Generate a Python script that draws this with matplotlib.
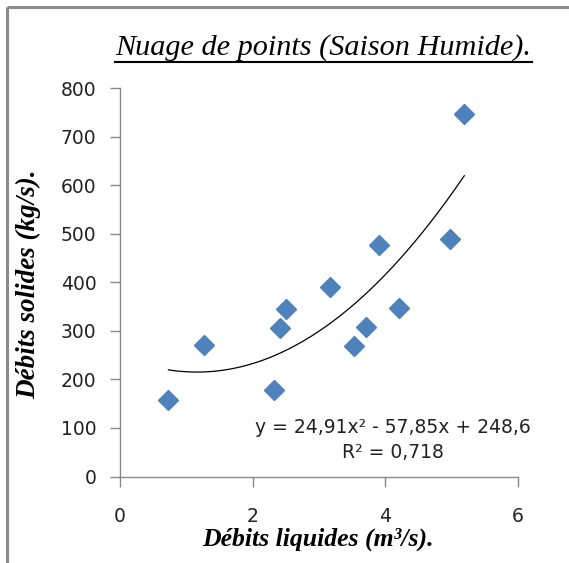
import numpy as np
import matplotlib
matplotlib.use("Agg")
import matplotlib.pyplot as plt
from matplotlib.lines import Line2D

# Wet-season measurements: liquid discharge (m3/s) vs solid discharge (kg/s)
debit_liquide = [0.73, 1.26, 2.32, 2.41, 2.51, 3.17, 3.53, 3.71, 3.90, 4.21, 4.97, 5.19]
debit_solide = [158, 270, 179, 306, 344, 390, 268, 307, 476, 347, 490, 746]

# Second-order polynomial trend line and its fit quality
coef_a, coef_b, coef_c = 24.91, -57.85, 248.6
r2 = 0.718

x_ticks = [0, 2, 4, 6]
y_ticks = [0, 100, 200, 300, 400, 500, 600, 700, 800]

W, H, DPI = 569, 563, 100
fig = plt.figure(figsize=(W / DPI, H / DPI), dpi=DPI)
fig.patch.set_facecolor("white")

# Chart-area frame (left and top edges visible)
frame_col = "#8a8a8a"
fig.add_artist(Line2D([7 / W, 7 / W], [0, 1 - 7 / H], transform=fig.transFigure,
                      color=frame_col, lw=2.2, solid_capstyle="butt"))
fig.add_artist(Line2D([7 / W, 1], [1 - 7 / H, 1 - 7 / H], transform=fig.transFigure,
                      color=frame_col, lw=2.2, solid_capstyle="butt"))

left, right = 120 / W, 518 / W
bottom, top = 1 - 476.5 / H, 1 - 88 / H
ax = fig.add_axes([left, bottom, right - left, top - bottom])
ax.set_xlim(0, 6)
ax.set_ylim(0, 800)

axis_col = "#888888"
for s in ["top", "right"]:
    ax.spines[s].set_visible(False)
for s in ["left", "bottom"]:
    ax.spines[s].set_color(axis_col)
    ax.spines[s].set_linewidth(1.0)

tick_font = "DejaVu Sans"
ax.set_xticks(x_ticks)
ax.set_yticks(y_ticks)
ax.set_xticklabels([str(v) for v in x_ticks], fontfamily=tick_font, fontsize=13.5, color="#222222")
ax.set_yticklabels([str(v) for v in y_ticks], fontfamily=tick_font, fontsize=13.5, color="#222222")
ax.tick_params(axis="both", direction="out", length=7, width=1.0, color=axis_col)
ax.tick_params(axis="x", pad=15)
ax.tick_params(axis="y", pad=10)

# Scatter points
ax.plot(debit_liquide, debit_solide, linestyle="none", marker="D", markersize=10,
        markerfacecolor="#4F81BD", markeredgecolor="#4F81BD", clip_on=False, zorder=3)

# Polynomial trend curve over the data range
xs = np.linspace(min(debit_liquide), max(debit_liquide), 200)
ys = coef_a * xs ** 2 + coef_b * xs + coef_c
ax.plot(xs, ys, color="black", lw=0.9, zorder=2)

eq = (f"y = {coef_a:.2f}x\u00b2 - {abs(coef_b):.2f}x + {coef_c:.1f}".replace(".", ",")
      + "\n" + f"R\u00b2 = {r2:.3f}".replace(".", ","))
ax.text(4.11, 76, eq, ha="center", va="center", multialignment="center",
        fontfamily=tick_font, fontsize=13.5, color="#222222", linespacing=1.4)

serif = "Liberation Serif"
title = fig.text(323.5 / W, 1 - 55 / H, "Nuage de points (Saison Humide).",
                 ha="center", va="baseline", fontfamily=serif, fontstyle="italic",
                 fontsize=21.8, color="black")
fig.text(318 / W, 1 - 539 / H, "Débits liquides (m\u00b3/s).", ha="center", va="center",
         fontfamily=serif, fontstyle="italic", fontweight="bold", fontsize=18.5, color="black")
fig.text(28.5 / W, 1 - 284 / H, "Débits solides (kg/s).", ha="center", va="center",
         rotation=90, fontfamily=serif, fontstyle="italic", fontweight="bold",
         fontsize=19.5, color="black")

# Underline the title
fig.canvas.draw()
bb = title.get_window_extent()
uy = (H - 62) / H
fig.add_artist(Line2D([bb.x0 / W, bb.x1 / W], [uy, uy], transform=fig.transFigure,
                      color="black", lw=1.5))

fig.savefig("out.png", dpi=DPI, facecolor="white")
